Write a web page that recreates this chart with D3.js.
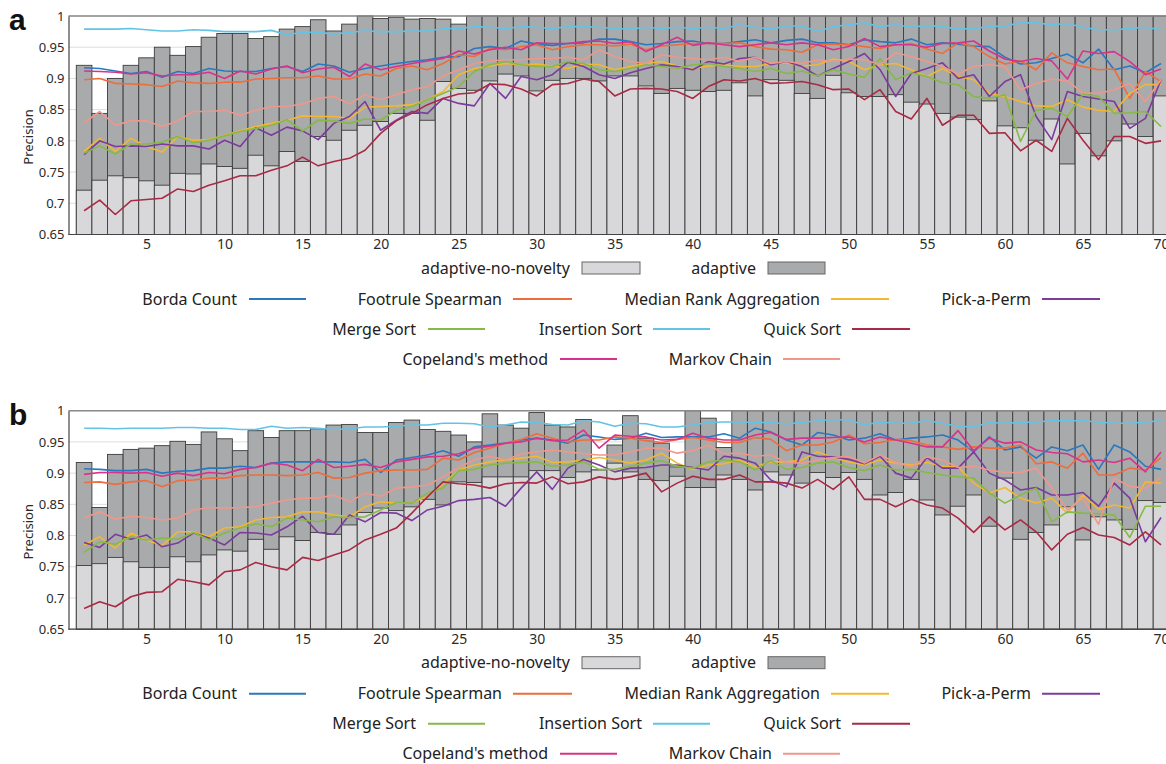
<!DOCTYPE html>
<html><head><meta charset="utf-8">
<script src="https://cdn.jsdelivr.net/npm/d3@7"></script>
<style>body{margin:0;background:#fff;} svg{display:block;font-family:"Noto Sans",sans-serif;}</style>
</head><body>
<svg id="chart" width="1166" height="764"></svg>
<script>
const categories = [1,2,3,4,5,6,7,8,9,10,11,12,13,14,15,16,17,18,19,20,21,22,23,24,25,26,27,28,29,30,31,32,33,34,35,36,37,38,39,40,41,42,43,44,45,46,47,48,49,50,51,52,53,54,55,56,57,58,59,60,61,62,63,64,65,66,67,68,69,70];
const xTicks = [5,10,15,20,25,30,35,40,45,50,55,60,65,70];
const yTicks = [0.65,0.7,0.75,0.8,0.85,0.9,0.95,1];
const barNames = ["adaptive-no-novelty","adaptive"];
const lineNames = ["Borda Count","Footrule Spearman","Median Rank Aggregation","Pick-a-Perm","Merge Sort","Insertion Sort","Quick Sort","Copeland's method","Markov Chain"];

// ---- panel a ----
const aAdaptive = [0.921,0.844,0.900,0.921,0.933,0.950,0.937,0.951,0.966,0.972,0.972,0.964,0.967,0.979,0.983,0.994,0.976,0.987,1.000,0.996,0.998,0.995,0.996,0.995,0.987,1,1,1,1,1,1,1,1,1,1,1,1,1,1,1,1,1,1,1,1,1,1,1,1,1,1,1,1,1,1,1,1,1,1,1,1,1,1,1,1,1,1,1,1,1];
const aNoNovelty = [0.721,0.737,0.744,0.741,0.736,0.729,0.748,0.747,0.763,0.759,0.756,0.777,0.760,0.783,0.767,0.807,0.801,0.817,0.825,0.831,0.844,0.844,0.833,0.895,0.884,0.881,0.896,0.907,0.904,0.880,0.897,0.900,0.900,0.896,0.904,0.904,0.888,0.876,0.884,0.881,0.879,0.881,0.893,0.872,0.898,0.897,0.876,0.868,0.905,0.877,0.871,0.871,0.874,0.862,0.859,0.844,0.838,0.834,0.864,0.824,0.821,0.801,0.835,0.763,0.812,0.776,0.800,0.827,0.807,0.872];
const aBorda = [0.917,0.916,0.912,0.908,0.911,0.902,0.911,0.908,0.916,0.912,0.911,0.911,0.916,0.919,0.911,0.923,0.920,0.910,0.916,0.920,0.924,0.927,0.930,0.934,0.935,0.948,0.951,0.948,0.960,0.955,0.953,0.956,0.957,0.963,0.963,0.959,0.954,0.956,0.959,0.960,0.956,0.956,0.959,0.962,0.957,0.961,0.963,0.957,0.957,0.954,0.962,0.959,0.957,0.963,0.954,0.957,0.955,0.952,0.951,0.934,0.923,0.925,0.932,0.939,0.925,0.947,0.914,0.920,0.909,0.924];
const aFootrule = [0.898,0.900,0.892,0.891,0.890,0.887,0.896,0.893,0.892,0.894,0.894,0.899,0.900,0.901,0.901,0.904,0.899,0.899,0.907,0.904,0.916,0.920,0.914,0.924,0.938,0.935,0.948,0.946,0.951,0.954,0.946,0.951,0.954,0.954,0.952,0.955,0.946,0.952,0.954,0.956,0.956,0.956,0.957,0.951,0.947,0.946,0.942,0.954,0.955,0.954,0.951,0.948,0.954,0.956,0.947,0.940,0.957,0.951,0.935,0.923,0.928,0.914,0.941,0.925,0.919,0.914,0.915,0.868,0.911,0.895];
const aMedian = [0.783,0.804,0.783,0.804,0.791,0.782,0.807,0.801,0.802,0.809,0.816,0.823,0.828,0.833,0.840,0.839,0.839,0.836,0.854,0.855,0.856,0.858,0.866,0.879,0.906,0.916,0.920,0.924,0.922,0.923,0.920,0.916,0.923,0.922,0.914,0.919,0.924,0.927,0.920,0.916,0.920,0.922,0.919,0.919,0.924,0.925,0.920,0.922,0.931,0.927,0.914,0.922,0.924,0.914,0.903,0.916,0.903,0.898,0.876,0.871,0.863,0.856,0.855,0.866,0.854,0.849,0.847,0.876,0.890,0.890];
const aPick = [0.778,0.800,0.791,0.792,0.791,0.795,0.792,0.792,0.787,0.801,0.791,0.821,0.809,0.822,0.816,0.802,0.828,0.839,0.863,0.817,0.833,0.847,0.844,0.868,0.860,0.856,0.892,0.868,0.903,0.898,0.906,0.926,0.919,0.906,0.900,0.909,0.916,0.922,0.919,0.914,0.927,0.923,0.932,0.934,0.922,0.927,0.919,0.904,0.916,0.927,0.940,0.914,0.871,0.908,0.916,0.925,0.900,0.906,0.871,0.895,0.906,0.839,0.802,0.879,0.871,0.867,0.863,0.820,0.836,0.898];
const aMerge = [0.780,0.792,0.779,0.795,0.795,0.798,0.807,0.797,0.801,0.808,0.815,0.820,0.825,0.834,0.816,0.833,0.832,0.828,0.835,0.833,0.849,0.855,0.866,0.876,0.887,0.911,0.922,0.927,0.922,0.919,0.919,0.927,0.924,0.914,0.911,0.916,0.922,0.919,0.916,0.922,0.924,0.919,0.916,0.911,0.916,0.908,0.912,0.904,0.914,0.907,0.902,0.932,0.898,0.909,0.903,0.893,0.890,0.871,0.868,0.874,0.799,0.849,0.852,0.839,0.875,0.871,0.844,0.845,0.847,0.823];
const aInsertion = [0.979,0.979,0.979,0.980,0.978,0.976,0.976,0.978,0.977,0.975,0.975,0.975,0.977,0.970,0.974,0.974,0.971,0.974,0.976,0.975,0.975,0.976,0.976,0.980,0.980,0.983,0.982,0.980,0.983,0.982,0.980,0.983,0.983,0.982,0.980,0.979,0.982,0.980,0.982,0.980,0.982,0.980,0.986,0.982,0.979,0.984,0.984,0.975,0.983,0.986,0.989,0.983,0.986,0.982,0.985,0.983,0.979,0.980,0.983,0.984,0.989,0.989,0.986,0.988,0.982,0.978,0.978,0.980,0.982,0.978];
const aQuick = [0.688,0.705,0.682,0.704,0.706,0.708,0.723,0.719,0.729,0.736,0.744,0.744,0.753,0.760,0.774,0.760,0.767,0.772,0.785,0.812,0.832,0.844,0.858,0.868,0.875,0.877,0.891,0.890,0.883,0.872,0.890,0.892,0.899,0.895,0.872,0.883,0.884,0.883,0.879,0.868,0.887,0.898,0.896,0.900,0.892,0.893,0.895,0.890,0.882,0.883,0.866,0.882,0.847,0.835,0.868,0.825,0.841,0.841,0.812,0.813,0.784,0.801,0.783,0.836,0.801,0.770,0.807,0.807,0.796,0.800];
const aCopeland = [0.912,0.911,0.910,0.907,0.909,0.904,0.906,0.906,0.910,0.900,0.912,0.907,0.915,0.920,0.909,0.915,0.918,0.903,0.923,0.914,0.919,0.924,0.928,0.932,0.944,0.939,0.946,0.950,0.946,0.957,0.956,0.956,0.959,0.960,0.956,0.959,0.943,0.954,0.966,0.953,0.957,0.954,0.951,0.954,0.957,0.954,0.957,0.954,0.946,0.951,0.964,0.951,0.954,0.954,0.950,0.956,0.957,0.960,0.944,0.931,0.927,0.932,0.928,0.899,0.944,0.940,0.943,0.927,0.906,0.915];
const aMarkov = [0.829,0.847,0.825,0.832,0.832,0.823,0.832,0.847,0.847,0.849,0.841,0.849,0.855,0.855,0.859,0.868,0.871,0.859,0.874,0.866,0.874,0.882,0.887,0.904,0.914,0.924,0.928,0.930,0.930,0.932,0.932,0.934,0.930,0.946,0.935,0.927,0.924,0.938,0.934,0.932,0.930,0.934,0.927,0.934,0.924,0.927,0.924,0.930,0.927,0.931,0.930,0.922,0.941,0.935,0.927,0.919,0.907,0.919,0.922,0.919,0.882,0.892,0.899,0.896,0.877,0.876,0.882,0.892,0.863,0.898];

// ---- panel b ----
const bAdaptive = [0.917,0.845,0.930,0.938,0.940,0.944,0.951,0.946,0.966,0.955,0.936,0.968,0.957,0.968,0.968,0.971,0.977,0.978,0.965,0.965,0.981,0.985,0.970,0.967,0.961,0.950,0.995,0.977,0.972,0.997,0.977,0.974,0.986,0.905,0.945,0.992,0.956,0.948,0.910,1.000,0.988,0.941,1,1,1,1,1,1,1,1,1,1,1,1,1,1,1,1,1,1,1,1,1,1,1,1,1,1,1,1];
const bNoNovelty = [0.752,0.755,0.765,0.758,0.749,0.749,0.766,0.758,0.769,0.777,0.775,0.794,0.778,0.798,0.792,0.805,0.802,0.817,0.837,0.844,0.840,0.846,0.858,0.849,0.886,0.885,0.894,0.894,0.894,0.904,0.904,0.893,0.902,0.905,0.916,0.902,0.890,0.888,0.895,0.877,0.877,0.897,0.890,0.873,0.902,0.897,0.884,0.901,0.893,0.901,0.890,0.865,0.869,0.890,0.857,0.833,0.847,0.865,0.815,0.892,0.794,0.805,0.817,0.846,0.793,0.830,0.825,0.810,0.856,0.853];
const bBorda = [0.907,0.906,0.904,0.904,0.906,0.900,0.903,0.904,0.908,0.908,0.911,0.909,0.916,0.918,0.918,0.918,0.918,0.917,0.922,0.901,0.921,0.925,0.929,0.936,0.927,0.942,0.945,0.948,0.953,0.956,0.953,0.948,0.961,0.958,0.954,0.956,0.964,0.957,0.958,0.958,0.958,0.963,0.956,0.972,0.966,0.953,0.945,0.965,0.961,0.953,0.956,0.963,0.953,0.956,0.958,0.961,0.953,0.934,0.958,0.937,0.942,0.924,0.942,0.936,0.945,0.906,0.945,0.934,0.911,0.906];
const bFootrule = [0.885,0.886,0.882,0.886,0.888,0.878,0.888,0.889,0.892,0.892,0.896,0.897,0.897,0.896,0.897,0.901,0.892,0.893,0.900,0.904,0.905,0.905,0.906,0.924,0.921,0.933,0.940,0.948,0.954,0.963,0.956,0.950,0.953,0.953,0.958,0.956,0.952,0.949,0.954,0.957,0.953,0.949,0.949,0.957,0.954,0.936,0.945,0.945,0.950,0.961,0.947,0.949,0.954,0.952,0.945,0.942,0.938,0.942,0.940,0.940,0.945,0.915,0.918,0.908,0.932,0.897,0.897,0.908,0.905,0.925];
const bMedian = [0.785,0.798,0.780,0.804,0.793,0.784,0.806,0.806,0.798,0.812,0.814,0.825,0.829,0.830,0.838,0.838,0.833,0.830,0.846,0.854,0.852,0.853,0.862,0.883,0.905,0.913,0.918,0.921,0.924,0.927,0.917,0.918,0.921,0.925,0.921,0.916,0.921,0.932,0.916,0.906,0.913,0.915,0.921,0.910,0.918,0.918,0.921,0.934,0.925,0.918,0.913,0.921,0.916,0.913,0.917,0.911,0.910,0.884,0.868,0.877,0.860,0.852,0.860,0.836,0.865,0.842,0.849,0.844,0.886,0.884];
const bPick = [0.789,0.781,0.802,0.794,0.801,0.782,0.788,0.804,0.796,0.785,0.805,0.804,0.801,0.814,0.831,0.805,0.802,0.833,0.822,0.837,0.836,0.824,0.841,0.847,0.856,0.858,0.861,0.847,0.876,0.902,0.874,0.908,0.922,0.913,0.902,0.908,0.909,0.913,0.913,0.909,0.905,0.927,0.924,0.916,0.889,0.878,0.934,0.927,0.926,0.922,0.915,0.927,0.900,0.892,0.925,0.908,0.908,0.934,0.900,0.889,0.873,0.877,0.865,0.865,0.869,0.847,0.884,0.860,0.790,0.829];
const bMerge = [0.773,0.790,0.786,0.798,0.793,0.796,0.794,0.805,0.793,0.804,0.812,0.819,0.814,0.828,0.825,0.822,0.830,0.829,0.830,0.841,0.853,0.852,0.868,0.876,0.904,0.906,0.913,0.916,0.917,0.918,0.911,0.913,0.918,0.906,0.906,0.911,0.916,0.920,0.911,0.908,0.918,0.921,0.918,0.905,0.920,0.906,0.909,0.916,0.918,0.909,0.904,0.913,0.905,0.906,0.901,0.897,0.894,0.892,0.868,0.852,0.865,0.876,0.822,0.838,0.836,0.835,0.833,0.797,0.847,0.847];
const bInsertion = [0.972,0.972,0.971,0.972,0.972,0.972,0.973,0.973,0.972,0.972,0.970,0.970,0.975,0.972,0.973,0.972,0.970,0.971,0.974,0.974,0.975,0.977,0.977,0.980,0.980,0.979,0.974,0.977,0.982,0.981,0.978,0.977,0.984,0.982,0.975,0.980,0.979,0.974,0.974,0.977,0.981,0.982,0.982,0.981,0.981,0.979,0.981,0.984,0.986,0.985,0.977,0.982,0.980,0.980,0.984,0.980,0.975,0.974,0.981,0.980,0.981,0.982,0.984,0.984,0.984,0.982,0.980,0.980,0.982,0.984];
const bQuick = [0.683,0.694,0.686,0.702,0.709,0.710,0.730,0.726,0.721,0.742,0.745,0.757,0.750,0.745,0.765,0.760,0.769,0.777,0.793,0.802,0.812,0.836,0.862,0.886,0.883,0.881,0.876,0.883,0.885,0.884,0.894,0.883,0.886,0.894,0.890,0.894,0.900,0.870,0.884,0.895,0.890,0.890,0.897,0.886,0.886,0.884,0.876,0.890,0.874,0.894,0.858,0.858,0.846,0.858,0.849,0.844,0.828,0.805,0.830,0.809,0.825,0.806,0.777,0.802,0.813,0.801,0.797,0.785,0.806,0.785];
const bCopeland = [0.898,0.901,0.901,0.900,0.901,0.895,0.900,0.896,0.901,0.899,0.906,0.909,0.916,0.913,0.904,0.922,0.909,0.911,0.914,0.909,0.918,0.922,0.926,0.927,0.931,0.940,0.943,0.948,0.950,0.956,0.952,0.953,0.969,0.940,0.961,0.959,0.958,0.953,0.954,0.964,0.956,0.953,0.953,0.961,0.965,0.954,0.956,0.956,0.957,0.958,0.950,0.958,0.953,0.948,0.942,0.942,0.968,0.936,0.956,0.948,0.950,0.937,0.933,0.931,0.918,0.921,0.917,0.924,0.902,0.934];
const bMarkov = [0.828,0.838,0.826,0.831,0.829,0.825,0.828,0.841,0.845,0.844,0.845,0.846,0.852,0.857,0.860,0.860,0.865,0.854,0.868,0.863,0.876,0.878,0.881,0.894,0.909,0.921,0.927,0.921,0.931,0.934,0.937,0.934,0.931,0.929,0.929,0.934,0.940,0.940,0.932,0.936,0.945,0.931,0.932,0.927,0.929,0.917,0.916,0.921,0.925,0.927,0.916,0.929,0.917,0.910,0.926,0.921,0.909,0.911,0.905,0.901,0.901,0.908,0.876,0.841,0.860,0.818,0.892,0.879,0.876,0.893];

// ---- styles / layout ----
const barColors = ["#d8d8da", "#a9aaac"];
const lineColors = ["#2a79bf","#ee6d3c","#f2b733","#7b3c9d","#86b945","#63c3e5","#a82a45","#d8338b","#f0978b"];

const panels = [
  {label:"a", top:16, bars:[aNoNovelty, aAdaptive],
   lines:[aBorda,aFootrule,aMedian,aPick,aMerge,aInsertion,aQuick,aCopeland,aMarkov]},
  {label:"b", top:410.7, bars:[bNoNovelty, bAdaptive],
   lines:[bBorda,bFootrule,bMedian,bPick,bMerge,bInsertion,bQuick,bCopeland,bMarkov]}
];

// legend layout: [kind, index, row, textEnd, x1, x2]
const legendLayout = [
  ["bar",0,0,570,582,640],["bar",1,0,756,768,825],
  ["line",0,1,237,249,306],["line",1,1,502,513,572],["line",2,1,820,831,889],["line",3,1,1031,1042,1100],
  ["line",4,2,416,428,485],["line",5,2,642,653,710],["line",6,2,841,852,910],
  ["line",7,3,548,560,617],["line",8,3,772,783,840]
];
const legendRowY = [252, 283, 313, 343];

const W = 1166, PH = 218.5;
const svg = d3.select("#chart");
const x = d3.scaleLinear().domain([0,70]).range([68.5,1161]);
const step = x(1) - x(0);
const y = d3.scaleLinear().domain([0.65,1]).range([PH,0]);

panels.forEach(p => {
  const g = svg.append("g").attr("transform", `translate(0,${p.top})`);
  // gridlines
  g.append("g").selectAll("line").data(yTicks).join("line")
    .attr("x1", x(0)).attr("x2", W).attr("y1", d=>y(d)).attr("y2", d=>y(d))
    .attr("stroke", "#dedede").attr("stroke-width", 1);
  // bars: adaptive behind, no-novelty in front
  [1,0].forEach(bi => {
    g.append("g").selectAll("rect").data(categories).join("rect")
      .attr("x", d => x(d-0.5)).attr("width", step)
      .attr("y", (d,i) => y(p.bars[bi][i]))
      .attr("height", (d,i) => y(0.65) - y(p.bars[bi][i]))
      .attr("fill", barColors[bi]).attr("stroke", "#3c3c3c").attr("stroke-width", 0.9);
  });
  // lines
  const lg = d3.line().x((d,i)=>x(categories[i])).y(d=>y(d));
  p.lines.forEach((s, si) => {
    g.append("path").datum(s).attr("d", lg).attr("fill","none")
      .attr("stroke", lineColors[si]).attr("stroke-width", 1.6).attr("stroke-linejoin","round");
  });
  // frame
  g.append("line").attr("x1", x(0)).attr("x2", W).attr("y1", 0).attr("y2", 0)
    .attr("stroke", "#8a8a8a").attr("stroke-width", 1.5);
  // axes
  const ya = g.append("g").attr("transform", `translate(${x(0)},0)`)
    .call(d3.axisLeft(y).tickValues(yTicks).tickSize(0).tickPadding(4).tickFormat(d3.format("~g")));
  ya.select(".domain").attr("stroke", "#444").attr("stroke-width", 1.2);
  ya.selectAll("text").attr("font-size", 13).attr("fill", "#2a2a2a").attr("font-family", '"Noto Sans",sans-serif');
  const xa = g.append("g").attr("transform", `translate(0,${PH})`)
    .call(d3.axisBottom(x).tickValues(xTicks).tickSize(0).tickPadding(5));
  xa.select(".domain").remove();
  xa.selectAll("text").attr("font-size", 14).attr("fill", "#2a2a2a").attr("font-family", '"Noto Sans",sans-serif');
  g.append("line").attr("x1", x(0)).attr("x2", W).attr("y1", PH).attr("y2", PH)
    .attr("stroke", "#444").attr("stroke-width", 1.2);
  // y label
  g.append("text").attr("transform", `translate(33,121) rotate(-90)`)
    .attr("text-anchor","middle").attr("font-size",13).attr("fill","#2a2a2a").text("Precision");
  // panel letter
  g.append("text").attr("x", 9).attr("y", 14).attr("font-size", 30).attr("font-weight","bold")
    .attr("font-family","'Liberation Sans',Arial,sans-serif").attr("fill","#111").text(p.label);
  // legend
  const leg = g.append("g");
  legendLayout.forEach(([kind, idx, row, tEnd, x1, x2]) => {
    const cy = legendRowY[row];
    leg.append("text").attr("x", tEnd).attr("y", cy).attr("dy","0.35em")
      .attr("text-anchor","end").attr("font-size",16).attr("fill","#222")
      .text(kind === "bar" ? barNames[idx] : lineNames[idx]);
    if (kind === "bar") {
      leg.append("rect").attr("x", x1).attr("y", cy-6).attr("width", x2-x1).attr("height", 12)
        .attr("fill", barColors[idx]).attr("stroke", "#666").attr("stroke-width", 1);
    } else {
      leg.append("line").attr("x1", x1).attr("x2", x2).attr("y1", cy).attr("y2", cy)
        .attr("stroke", lineColors[idx]).attr("stroke-width", 2);
    }
  });
});
</script>
</body></html>
